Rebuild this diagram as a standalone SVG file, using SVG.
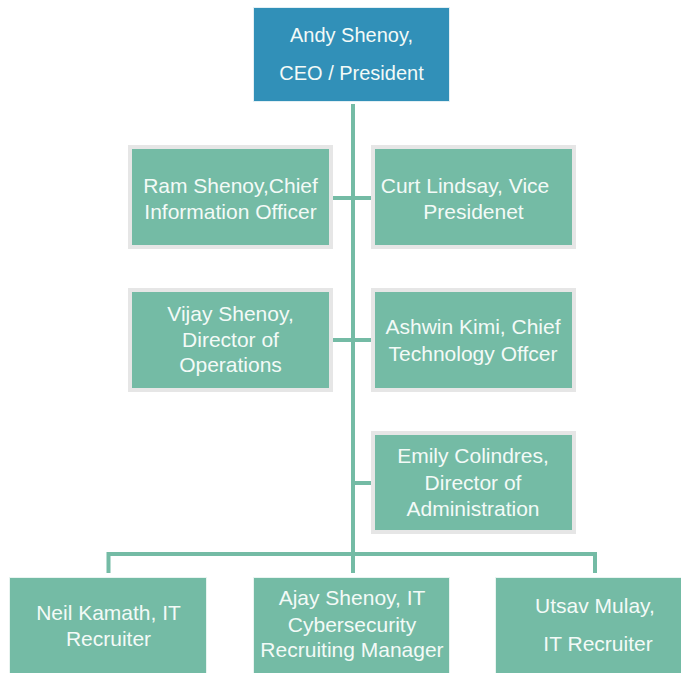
<svg xmlns="http://www.w3.org/2000/svg" width="681" height="673" viewBox="0 0 681 673">
<style>
.bg{fill:#ffffff}
.top{fill:#3190b8;stroke:#e2eff4;stroke-width:1}
.mid{fill:#74bba5;stroke:#e6e6e6;stroke-width:4}
.bot{fill:#74bba5;stroke:#e8f4f0;stroke-width:1}
.t{font-family:"Liberation Sans",Arial,sans-serif;font-size:21px;fill:#f3faf7;text-anchor:middle}
.tt{font-size:20px}
.c{stroke:#74bba5;stroke-width:4;fill:none}
</style>
<rect class="bg" x="0" y="0" width="681" height="673"/>
<g id="connectors">
<line class="c" x1="353" y1="104" x2="353" y2="573"/>
<line class="c" x1="333" y1="198" x2="371" y2="198"/>
<line class="c" x1="333" y1="340" x2="371" y2="340"/>
<line class="c" x1="353" y1="483" x2="371" y2="483"/>
<polyline class="c" points="108.5,573 108.5,554 595,554 595,573"/>
</g>
<g id="ceo">
<rect class="top" x="253.5" y="7.5" width="196" height="94"/>
<text class="t tt" x="351.5" y="42">Andy Shenoy,</text>
<text class="t tt" x="351.5" y="80">CEO / President</text>
</g>
<g id="ram">
<rect class="mid" x="130" y="147" width="201" height="100"/>
<text class="t" x="230.5" y="193">Ram Shenoy,Chief</text>
<text class="t" x="230.5" y="219">Information Officer</text>
</g>
<g id="curt">
<rect class="mid" x="373" y="147" width="201" height="100"/>
<text class="t" x="465" y="193">Curt Lindsay, Vice</text>
<text class="t" x="473.5" y="219">Presidenet</text>
</g>
<g id="vijay">
<rect class="mid" x="130" y="290" width="201" height="100"/>
<text class="t" x="230.5" y="321">Vijay Shenoy,</text>
<text class="t" x="230.5" y="347">Director of</text>
<text class="t" x="230.5" y="372">Operations</text>
</g>
<g id="ashwin">
<rect class="mid" x="373" y="290" width="201" height="100"/>
<text class="t" x="473" y="334">Ashwin Kimi, Chief</text>
<text class="t" x="473" y="361">Technology Offcer</text>
</g>
<g id="emily">
<rect class="mid" x="373" y="433" width="201" height="99"/>
<text class="t" x="473" y="463">Emily Colindres,</text>
<text class="t" x="473" y="490">Director of</text>
<text class="t" x="473" y="516">Administration</text>
</g>
<g id="neil">
<rect class="bot" x="9.5" y="577.5" width="197" height="100"/>
<text class="t" x="108.5" y="620">Neil Kamath, IT</text>
<text class="t" x="108.5" y="646">Recruiter</text>
</g>
<g id="ajay">
<rect class="bot" x="253.5" y="577.5" width="196" height="100"/>
<text class="t" x="352" y="605">Ajay Shenoy, IT</text>
<text class="t" x="352" y="632">Cybersecurity</text>
<text class="t" x="352" y="657">Recruiting Manager</text>
</g>
<g id="utsav">
<rect class="bot" x="495.5" y="577.5" width="190" height="100"/>
<text class="t" x="595" y="613">Utsav Mulay,</text>
<text class="t" x="598" y="651">IT Recruiter</text>
</g>
</svg>
